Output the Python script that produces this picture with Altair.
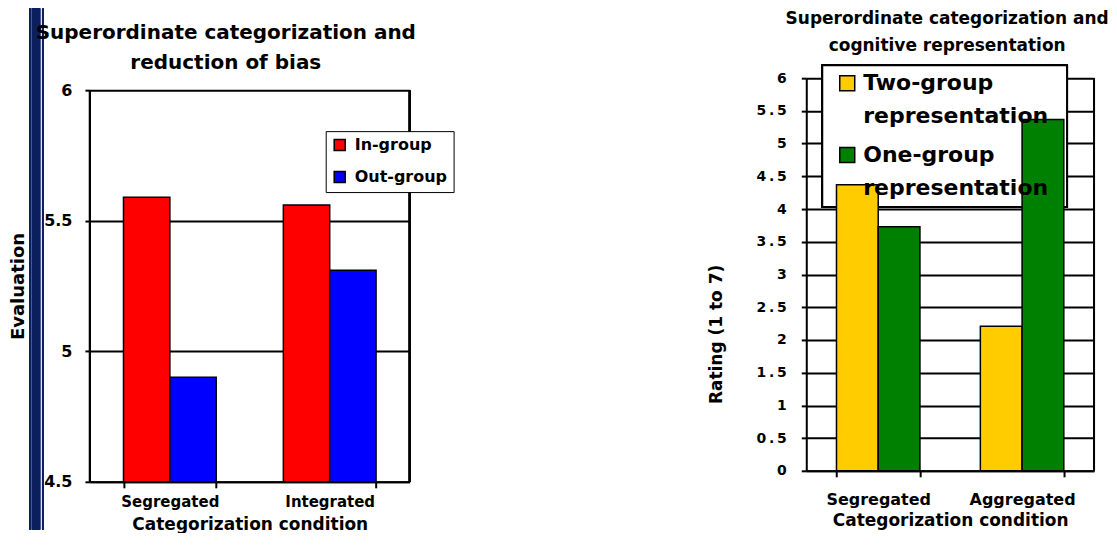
import altair as alt
import pandas as pd

FONT = "DejaVu Sans"

# ---------------- data ----------------
left_categories = ["Segregated", "Integrated"]
left_series = ["In-group", "Out-group"]
left_in_group = [5.59, 5.56]
left_out_group = [4.90, 5.31]
left_ticks = [4.5, 5, 5.5, 6]
left_colors = ["#FF0000", "#0000FF"]

right_categories = ["Segregated", "Aggregated"]
right_series = ["Two-group representation", "One-group representation"]
right_two_group = [4.37, 2.21]
right_one_group = [3.73, 5.37]
right_ticks = [0, 0.5, 1, 1.5, 2, 2.5, 3, 3.5, 4, 4.5, 5, 5.5, 6]
right_colors = ["#FFCC00", "#008000"]

left_df = pd.DataFrame({
    "condition": left_categories + left_categories,
    "group": [left_series[0]] * 2 + [left_series[1]] * 2,
    "value": left_in_group + left_out_group,
})
right_df = pd.DataFrame({
    "condition": right_categories + right_categories,
    "group": [right_series[0]] * 2 + [right_series[1]] * 2,
    "value": right_two_group + right_one_group,
})
legend_df = pd.DataFrame({"group": right_series})

# plot sizes (left plot is 12px taller on top so that its "6" line sits lower)
LW, LH = 320, 404
L_TOP = 6 + 12 / (392 / 1.5)
RW, RH = 288, 393
NAVY = "#0b1f5e"


def x_axis(title, label_size, title_size, title_y, label_pad):
    return alt.Axis(
        title=title, labelAngle=0, tickBand="extent", tickSize=6, tickWidth=2,
        tickColor="black", domainColor="black", domainWidth=2, grid=False,
        labelFont=FONT, labelFontSize=label_size, labelFontWeight="bold",
        labelColor="black", labelPadding=label_pad,
        titleFont=FONT, titleFontSize=title_size, titleFontWeight="bold",
        titleColor="black", titleY=title_y, titleBaseline="middle",
    )


# ---------------- left chart ----------------
lbase = alt.Chart(left_df)

left_bars = lbase.mark_bar(stroke="black", strokeWidth=1.5).encode(
    x=alt.X("condition:N", sort=left_categories,
            scale=alt.Scale(paddingInner=0.42, paddingOuter=0.21),
            axis=x_axis("Categorization condition", 15, 17, 43, 7)),
    xOffset=alt.XOffset("group:N", sort=left_series),
    y=alt.Y("value:Q", stack=None,
            scale=alt.Scale(domain=[4.5, L_TOP], nice=False, zero=False),
            axis=alt.Axis(values=left_ticks, format="~g", title="Evaluation", grid=True,
                          gridColor="black", gridWidth=2, gridOpacity=1,
                          tickSize=5, tickWidth=2, tickColor="black", domain=False,
                          labelFont=FONT, labelFontSize=16, labelFontWeight="bold",
                          labelColor="black", labelPadding=13,
                          titleFont=FONT, titleFontSize=18, titleFontWeight="bold",
                          titleColor="black", titleX=-71, titleY=208,
                          titleAngle=-90, titleAlign="center", titleBaseline="middle")),
    y2=alt.datum(4.5),
    color=alt.Color("group:N", sort=left_series,
                    scale=alt.Scale(domain=left_series, range=left_colors),
                    legend=alt.Legend(title=None, orient="none", legendX=236, legendY=53,
                                      fillColor="white", strokeColor="black",
                                      padding=6, symbolType="square", symbolSize=121,
                                      symbolStrokeColor="black", symbolStrokeWidth=1.5,
                                      symbolOpacity=1,
                                      labelFont=FONT, labelFontSize=16,
                                      labelFontWeight="bold", labelColor="black",
                                      labelOffset=7, rowPadding=14)),
)

left_domain = lbase.mark_rule(color="black", strokeWidth=2).encode(
    x=alt.value(0), y=alt.datum(6), y2=alt.datum(4.5))
left_border = lbase.mark_rule(color="black", strokeWidth=2).encode(
    x=alt.value(LW), y=alt.datum(6), y2=alt.datum(4.5))

# decorative navy slide rules at the far left
blue_rects = []
for x1, x2 in [(-60.7, -58.7), (-57.7, -49.7), (-48.0, -46.3)]:
    blue_rects.append(lbase.mark_rect(color=NAVY).encode(
        x=alt.value(x1), x2=alt.value(x2), y=alt.value(-70), y2=alt.value(452)))

anchor_l = lbase.mark_rect(color="white").encode(
    x=alt.value(-82), x2=alt.value(-81), y=alt.value(0), y2=alt.value(1))
anchor_r = lbase.mark_rect(color="white").encode(
    x=alt.value(390), x2=alt.value(391), y=alt.value(0), y2=alt.value(1))

left = alt.layer(
    left_bars, left_domain, left_border, *blue_rects, anchor_l, anchor_r
).properties(
    width=LW, height=LH,
    title=alt.TitleParams(
        text=["Superordinate categorization and", "reduction of bias"],
        font=FONT, fontSize=20, fontWeight="bold", color="black",
        lineHeight=30, anchor="middle", frame="group", dx=-24, offset=0, dy=65),
)

# ---------------- right chart ----------------
rbase = alt.Chart(right_df)

legend_box = rbase.mark_rect(fill="white", stroke="black", strokeWidth=2).encode(
    x=alt.value(16), x2=alt.value(261), y=alt.value(-13), y2=alt.value(129))

right_border = rbase.mark_rule(color="black", strokeWidth=2).encode(
    x=alt.value(RW), y=alt.value(0), y2=alt.value(RH))

right_bars = rbase.mark_bar(stroke="black", strokeWidth=1.5).encode(
    x=alt.X("condition:N", sort=right_categories,
            scale=alt.Scale(paddingInner=0.42, paddingOuter=0.21),
            axis=x_axis("Categorization condition", 16, 17, 50, 15)),
    xOffset=alt.XOffset("group:N", sort=right_series),
    y=alt.Y("value:Q", stack=None,
            scale=alt.Scale(domain=[0, 6], nice=False),
            axis=alt.Axis(values=right_ticks, format="~g", title="Rating (1 to 7)", grid=True,
                          gridColor="black", gridWidth=2, gridOpacity=1,
                          tickSize=5, tickWidth=2, tickColor="black",
                          domainColor="black", domainWidth=2,
                          labelExpr="replace(datum.label, '.', '\u2009.\u2009')",
                          labelFont=FONT, labelFontSize=14, labelFontWeight="bold",
                          labelColor="black", labelPadding=15,
                          titleFont=FONT, titleFontSize=17, titleFontWeight="bold",
                          titleColor="black", titleX=-90, titleY=256,
                          titleAngle=-90, titleAlign="center", titleBaseline="middle")),
    color=alt.Color("group:N", sort=right_series,
                    scale=alt.Scale(domain=right_series, range=right_colors),
                    legend=None),
)

legend_layers = []
for name, ypos in zip(right_series, [5, 77]):
    sel = alt.Chart(legend_df).transform_filter(alt.datum.group == name)
    legend_layers.append(
        sel.mark_square(size=225, stroke="black", strokeWidth=1.5, opacity=1).encode(
            x=alt.value(41), y=alt.value(ypos),
            color=alt.Color("group:N", scale=alt.Scale(domain=right_series, range=right_colors),
                            legend=None)))
    legend_layers.append(
        sel.mark_text(align="left", baseline="middle", lineBreak=" ", lineHeight=33,
                      font=FONT, fontSize=22, fontWeight="bold", color="black").encode(
            x=alt.value(57), y=alt.value(ypos), text="group:N"))

anchor_rl = rbase.mark_rect(color="white").encode(
    x=alt.value(-115), x2=alt.value(-114), y=alt.value(100), y2=alt.value(101))

right = alt.layer(
    legend_box, right_border, right_bars, *legend_layers, anchor_rl
).properties(
    width=RW, height=RH,
    title=alt.TitleParams(
        text=["Superordinate categorization and", "cognitive representation"],
        font=FONT, fontSize=17, fontWeight="bold", color="black",
        lineHeight=27, anchor="middle", frame="group", offset=0, dx=-3, dy=-9),
)

chart = alt.hconcat(left, right, spacing=211).resolve_scale(
    color="independent", x="independent", y="independent", xOffset="independent"
).properties(
    padding={"left": 0, "top": 0, "right": 0, "bottom": 0}
).configure_view(stroke=None)

chart.save("out.html", embed_options={"renderer": "svg", "actions": False})
